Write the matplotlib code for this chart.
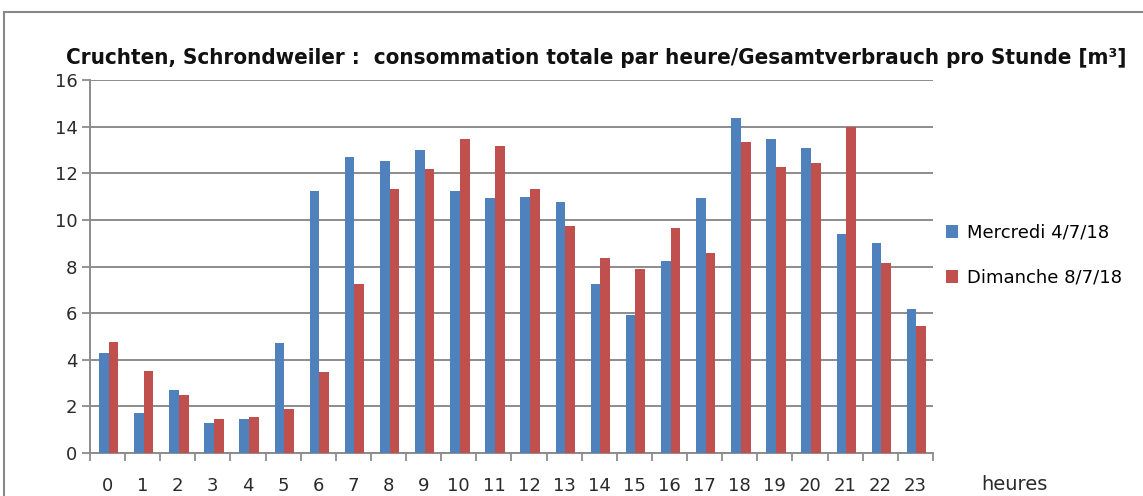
import matplotlib
matplotlib.use("Agg")
import matplotlib.pyplot as plt
import numpy as np
from matplotlib.lines import Line2D

hours = list(range(24))
hour_labels = [str(h) for h in hours]
mercredi = [4.3, 1.7, 2.7, 1.3, 1.47, 4.72, 11.22, 12.68, 12.52, 12.98, 11.23, 10.93,
            11.0, 10.76, 7.26, 5.91, 8.22, 10.93, 14.35, 13.46, 13.07, 9.41, 9.01, 6.16]
dimanche = [4.78, 3.52, 2.5, 1.46, 1.54, 1.87, 3.46, 7.27, 11.32, 12.2, 13.47, 13.16,
            11.32, 9.72, 8.38, 7.9, 9.64, 8.6, 13.32, 12.28, 12.43, 14.0, 8.13, 5.44]
series_names = ["Mercredi 4/7/18", "Dimanche 8/7/18"]
title = "Cruchten, Schrondweiler :  consommation totale par heure/Gesamtverbrauch pro Stunde [m³]"
yticks = [0, 2, 4, 6, 8, 10, 12, 14, 16]

W, H = 1143, 496
fig = plt.figure(figsize=(W / 100, H / 100), dpi=100)
ax = fig.add_axes([90 / W, 1 - 453 / H, (933 - 90) / W, (453 - 80) / H])

x = np.arange(len(hours))
bw = 0.275
ax.bar(x - bw / 2 + 0.03, mercredi, bw, color="#4F81BD", label=series_names[0], zorder=3)
ax.bar(x + bw / 2 + 0.03, dimanche, bw, color="#C0504D", label=series_names[1], zorder=3)

ax.set_xlim(-0.5, 23.5)
ax.set_ylim(0, 16)
ax.set_yticks(yticks)
ax.set_yticklabels([str(v) for v in yticks], fontsize=13, color="#2a2a2a")
ax.yaxis.grid(True, color="#8c8c8c", linewidth=1.4, zorder=0)

ax.set_xticks(np.arange(-0.5, 24, 1))
ax.set_xticklabels([])
ax.set_xticks(x, minor=True)
ax.set_xticklabels(hour_labels, minor=True, fontsize=13, color="#2a2a2a")
ax.tick_params(axis="x", which="major", length=6, width=1.3, color="#8c8c8c", direction="out")
ax.tick_params(axis="x", which="minor", length=0, pad=17)
ax.tick_params(axis="y", length=6, width=1.3, color="#8c8c8c", pad=3)

for s in ["top", "right"]:
    ax.spines[s].set_visible(False)
for s in ["left", "bottom"]:
    ax.spines[s].set_color("#8c8c8c")
    ax.spines[s].set_linewidth(1.4)

fig.text(596 / W, 1 - 58 / H, title, ha="center", va="center", fontsize=16,
         fontweight="bold", fontstretch="condensed", family="DejaVu Sans", color="#111111")

ax.legend(loc="center left", bbox_to_anchor=(1.0, 0.53), frameon=False, fontsize=13,
          handlelength=0.7, handleheight=0.7, handletextpad=0.5, labelspacing=1.5,
          borderaxespad=0.3)

fig.text(1014 / W, 1 - 485 / H, "heures", ha="center", va="center", fontsize=14, color="#2a2a2a")

# outer chart border (cropped)
fig.add_artist(Line2D([4 / W, 4 / W], [0, 1 - 12 / H], transform=fig.transFigure,
                      color="#888888", linewidth=1.5))
fig.add_artist(Line2D([4 / W, 1], [1 - 12 / H, 1 - 12 / H], transform=fig.transFigure,
                      color="#888888", linewidth=1.5))

fig.savefig("out.png", dpi=100)
